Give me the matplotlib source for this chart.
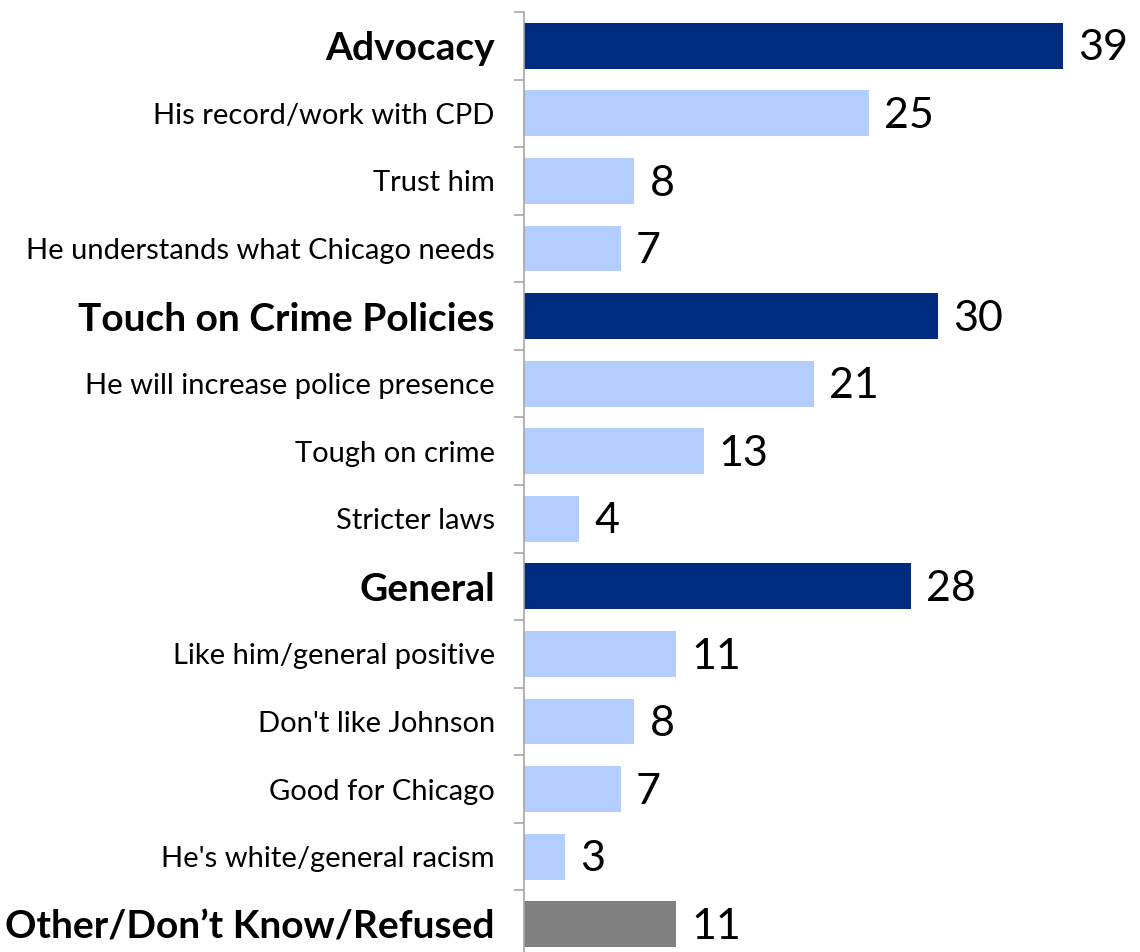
import matplotlib.pyplot as plt

# Razones de apoyo (porcentajes)
etiquetas = ['Advocacy', 'His record/work with CPD', 'Trust him',
             'He understands what Chicago needs', 'Touch on Crime Policies',
             'He will increase police presence', 'Tough on crime', 'Stricter laws',
             'General', 'Like him/general positive', "Don't like Johnson",
             'Good for Chicago', "He's white/general racism",
             'Other/Don\u2019t Know/Refused']
valores = [39, 25, 8, 7, 30, 21, 13, 4, 28, 11, 8, 7, 3, 11]
tipo = ['head', 'sub', 'sub', 'sub', 'head', 'sub', 'sub', 'sub',
        'head', 'sub', 'sub', 'sub', 'sub', 'other']

colores = {'head': '#002C7F', 'sub': '#B3CDFE', 'other': '#808080'}

plt.rcParams['font.family'] = ['Lato', 'DejaVu Sans']

fig = plt.figure(figsize=(11.4, 9.52), dpi=100)
ax = fig.add_axes([524 / 1140, -6 / 952, 616 / 1140, 946 / 952])

y = list(range(len(valores)))
ax.barh(y, valores, height=0.68, color=[colores[t] for t in tipo])
ax.set_ylim(len(valores) - 0.5, -0.5)
ax.set_xlim(0, 44.6)

for yi, v in zip(y, valores):
    ax.text(v + 1.1, yi + 0.04, str(v), va='center', ha='left', fontsize=31)

ax.set_yticks(y)
ax.set_yticklabels(etiquetas)
for lbl, t in zip(ax.get_yticklabels(), tipo):
    if t == 'sub':
        lbl.set_fontsize(21)
    else:
        lbl.set_fontsize(28)
        lbl.set_fontweight('bold')

# marcas entre filas
ax.set_yticks([i - 0.5 for i in range(len(valores) + 1)], minor=True)
ax.tick_params(axis='y', which='major', length=0, pad=21)
ax.tick_params(axis='y', which='minor', length=7, color='#A6A6A6', width=1.2)
ax.set_xticks([])
for s in ['top', 'right', 'bottom']:
    ax.spines[s].set_visible(False)
ax.spines['left'].set_color('#A6A6A6')
ax.spines['left'].set_linewidth(1.2)

fig.savefig('out.png', dpi=100)
